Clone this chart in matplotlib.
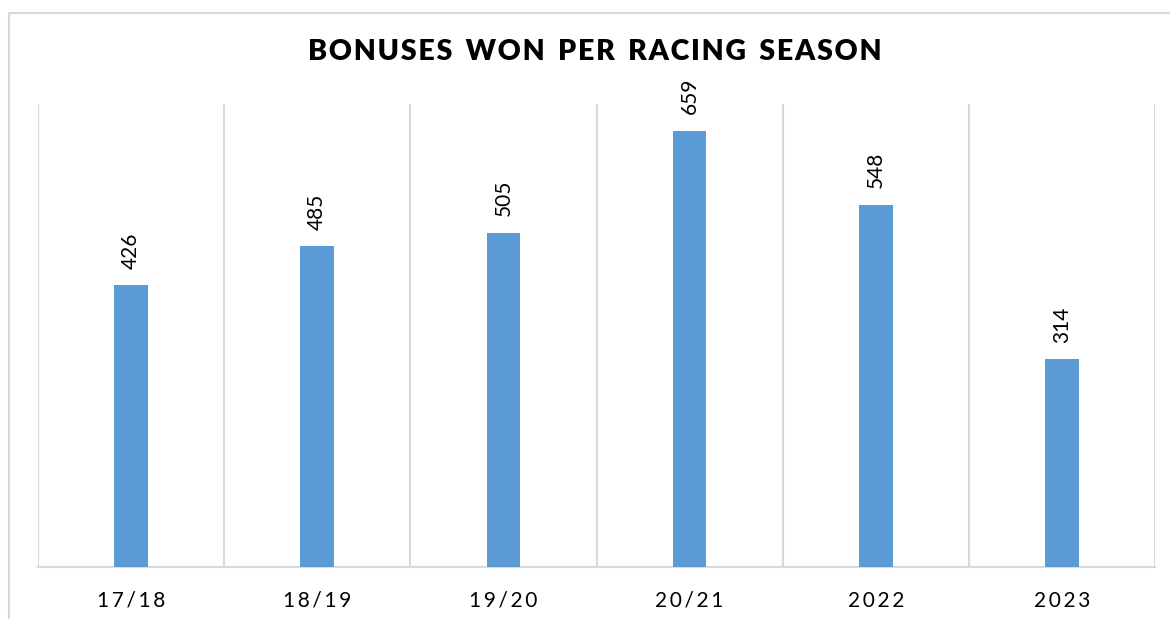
import matplotlib
matplotlib.use("Agg")
import matplotlib.pyplot as plt
from matplotlib.patches import Rectangle

categories = ["17/18", "18/19", "19/20", "20/21", "2022", "2023"]
values = [426, 485, 505, 659, 548, 314]
title = "BONUSES WON PER RACING SEASON"

W, H = 1170, 619
fig = plt.figure(figsize=(W / 100, H / 100), dpi=100)
plt.rcParams['font.family'] = ['Lato', 'DejaVu Sans']

# outer chart border (cropped on right/bottom)
fig.patches.append(Rectangle((9 / W, -0.1), 1.2, 1.1 - 13 / H, transform=fig.transFigure,
                             fill=False, edgecolor="#d9d9d9", linewidth=1.5))

left, right, bottom, top = 38 / W, 1155 / W, 1 - 567 / H, 1 - 104 / H
ax = fig.add_axes([left, bottom, right - left, top - bottom])
x = list(range(len(categories)))
ax.bar(x, values, width=0.18, color="#5B9BD5", zorder=3)
ax.set_xlim(-0.5, len(categories) - 0.5)
ax.set_ylim(0, 700)
for b in [i - 0.5 for i in range(len(categories) + 1)]:
    ax.axvline(b, color="#d9d9d9", linewidth=1.5, zorder=1)
for s in ["top", "left", "right"]:
    ax.spines[s].set_visible(False)
ax.spines["bottom"].set_color("#d9d9d9")
ax.spines["bottom"].set_linewidth(1.5)
ax.set_yticks([])
ax.set_xticks(x)
spaced = ["\u2009".join(c) for c in categories]
ax.set_xticklabels(spaced, fontsize=15, color="#000000")
ax.tick_params(axis="x", length=0, pad=17)
for xi, v in zip(x, values):
    ax.annotate(str(v), (xi, v), xytext=(0, 12), textcoords="offset points",
                rotation=90, ha="center", va="bottom", fontsize=15)

fig.text(595 / W, 1 - 52 / H, "\u200a".join(title).replace("\u200a \u200a", "  "),
         ha="center", va="center", fontsize=20.5, fontweight="heavy")

fig.savefig("out.png", dpi=100)
